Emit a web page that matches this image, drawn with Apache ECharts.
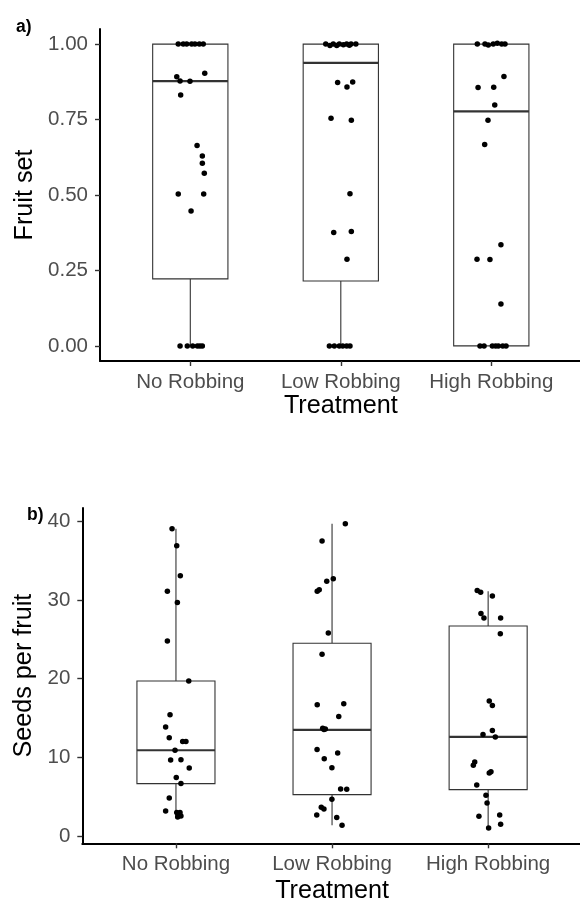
<!DOCTYPE html>
<html>
<head>
<meta charset="utf-8">
<script src="https://cdn.jsdelivr.net/npm/echarts@6/dist/echarts.min.js"></script>
<style>
html,body{margin:0;padding:0;background:#fff;}
#chart{width:580px;height:901px;}
</style>
</head>
<body>
<div id="chart"></div>
<script>
// ---- Data ----
const treatments = ['No Robbing', 'Low Robbing', 'High Robbing'];
const treatmentPos = [1, 2, 3];
const fruitTicks = [0, 0.25, 0.5, 0.75, 1.0];
const seedTicks = [0, 10, 20, 30, 40];

// box stats: [position, lower whisker, Q1, median, Q3, upper whisker]
const fruitBoxes = [
  [1, 0, 0.222, 0.877, 1.0, 1.0],
  [2, 0, 0.215, 0.938, 1.0, 1.0],
  [3, 0, 0.0, 0.777, 1.0, 1.0]
];
const seedBoxes = [
  [1, 2.41, 6.66, 10.9, 19.7, 39.05],
  [2, 1.36, 5.26, 13.5, 24.5, 39.7],
  [3, 1.02, 5.9, 12.6, 26.7, 31.1]
];

// jittered points [x position, value]
const fruitNo = [
  [0.920,1],[0.953,1],[0.976,1],[1.009,1],[1.031,1],[1.060,1],[1.086,1],
  [0.910,0.892],[1.096,0.903],[0.932,0.878],[0.998,0.877],[0.936,0.831],
  [1.045,0.664],[1.080,0.629],[1.080,0.605],[1.093,0.572],[0.920,0.503],
  [1.089,0.503],[1.005,0.447],
  [0.932,0],[0.980,0],[1.016,0],[1.047,0],[1.064,0],[1.080,0]
];
const fruitLow = [
  [1.900,1],[1.928,0.995],[1.950,1],[1.973,0.995],[1.990,1],[2.017,0.998],
  [2.039,1],[2.057,0.996],[2.068,1],[2.100,1],
  [1.979,0.873],[2.079,0.874],[2.041,0.858],[1.935,0.754],[2.070,0.748],
  [2.061,0.504],[1.953,0.376],[2.070,0.379],[2.041,0.287],
  [1.924,0],[1.957,0],[1.990,0],[2.013,0],[2.039,0],[2.061,0]
];
const fruitHigh = [
  [2.907,1],[2.958,1],[2.980,0.997],[3.013,1],[3.040,1.003],[3.069,1],[3.091,1],
  [3.084,0.893],[2.912,0.856],[3.016,0.857],[3.023,0.798],[2.978,0.748],
  [2.956,0.667],[3.064,0.335],[2.905,0.287],[2.991,0.286],[3.064,0.139],
  [2.925,0],[2.952,0],[3.007,0],[3.029,0],[3.047,0],[3.076,0],[3.098,0]
];
const seedNo = [
  [0.975,39.05],[1.005,36.9],[1.028,33.1],[0.945,31.1],[1.009,29.7],[0.945,24.8],
  [1.082,19.7],[0.962,15.4],[0.934,13.85],[0.957,12.5],[1.043,12.0],[1.064,12.0],
  [0.994,10.9],[0.966,9.66],[1.032,9.7],[1.085,8.64],[1.002,7.42],[1.032,6.66],
  [0.957,4.83],[0.934,3.18],[1.005,3.0],[1.026,3.0],[1.015,2.63],[1.032,2.54],[1.011,2.41]
];
const seedLow = [
  [2.085,39.7],[1.936,37.5],[2.008,32.7],[1.966,32.4],[1.918,31.3],[1.905,31.1],
  [1.976,25.8],[1.936,23.1],[1.905,16.7],[2.075,16.8],[2.043,15.2],[1.940,13.7],
  [1.957,13.6],[1.948,13.55],[1.904,11.0],[2.036,10.55],[1.950,9.83],[1.999,8.69],
  [2.055,5.97],[2.094,5.93],[1.999,4.66],[1.931,3.65],[1.948,3.43],[1.902,2.67],
  [2.030,2.34],[2.064,1.36]
];
const seedHigh = [
  [2.930,31.2],[2.952,31.0],[3.027,30.5],[2.954,28.3],[2.973,27.7],[3.080,27.7],
  [3.078,25.7],[3.007,17.15],[3.027,16.6],[3.027,13.4],[2.967,12.9],[3.046,12.6],
  [2.914,9.4],[2.905,8.98],[3.018,8.18],[3.007,8.0],[2.927,6.48],[2.986,5.17],
  [2.993,4.19],[2.941,2.50],[3.074,2.67],[3.080,1.49],[3.003,1.02]
];

// ---- Chart ----
const FONT = 'Liberation Sans, Arial, Helvetica, sans-serif';
const chart = echarts.init(document.getElementById('chart'), null, {renderer: 'canvas'});

function renderBox(params, api) {
  const x = api.value(0);
  const lo = api.coord([x, api.value(1)]);
  const q1 = api.coord([x, api.value(2)]);
  const md = api.coord([x, api.value(3)]);
  const q3 = api.coord([x, api.value(4)]);
  const hi = api.coord([x, api.value(5)]);
  const w = api.size([0.5, 0])[0];
  const stroke = '#333333';
  return {
    type: 'group',
    children: [
      {type: 'line', shape: {x1: hi[0], y1: hi[1], x2: q3[0], y2: q3[1]}, style: {stroke: stroke, lineWidth: 1.1}},
      {type: 'line', shape: {x1: lo[0], y1: lo[1], x2: q1[0], y2: q1[1]}, style: {stroke: stroke, lineWidth: 1.1}},
      {type: 'rect', shape: {x: q3[0] - w / 2, y: q3[1], width: w, height: q1[1] - q3[1]},
        style: {fill: '#ffffff', stroke: stroke, lineWidth: 1.1}},
      {type: 'line', shape: {x1: md[0] - w / 2, y1: md[1], x2: md[0] + w / 2, y2: md[1]},
        style: {stroke: stroke, lineWidth: 2.2}}
    ]
  };
}

function xAxisDef(gridIndex, gap) {
  return {
    type: 'value', gridIndex: gridIndex, min: 0.4, max: 3.6,
    name: 'Treatment', nameLocation: 'middle', nameGap: gap,
    nameTextStyle: {color: '#000', fontSize: 25.2, fontFamily: FONT},
    axisLine: {show: true, onZero: false, lineStyle: {color: '#000', width: 2}},
    axisTick: {show: true, length: 5, lineStyle: {color: '#333', width: 1.4}, customValues: treatmentPos},
    axisLabel: {color: '#4d4d4d', fontSize: 20.5, fontFamily: FONT, margin: 11,
      customValues: treatmentPos, formatter: v => treatments[Math.round(v) - 1]},
    splitLine: {show: false}
  };
}

function yAxisDef(gridIndex, name, min, max, ticks, fmt, gap) {
  return {
    type: 'value', gridIndex: gridIndex, min: min, max: max,
    name: name, nameLocation: 'middle', nameGap: gap,
    nameTextStyle: {color: '#000', fontSize: 25.2, fontFamily: FONT},
    axisLine: {show: true, onZero: false, lineStyle: {color: '#000', width: 2}},
    axisTick: {show: true, length: 5, lineStyle: {color: '#333', width: 1.4}, customValues: ticks},
    axisLabel: {color: '#4d4d4d', fontSize: 20.5, fontFamily: FONT, margin: 12,
      customValues: ticks, formatter: fmt},
    splitLine: {show: false}
  };
}

function points(data, idx) {
  return {type: 'scatter', xAxisIndex: idx, yAxisIndex: idx, data: data,
    symbolSize: 5.5, itemStyle: {color: '#000', opacity: 1}, z: 5, silent: true};
}

const option = {
  animation: false,
  backgroundColor: '#ffffff',
  title: [
    {text: 'a)', left: 11, top: 13, textStyle: {fontSize: 17.5, fontWeight: 'bold', color: '#000', fontFamily: FONT}},
    {text: 'b)', left: 22, top: 501, textStyle: {fontSize: 17.5, fontWeight: 'bold', color: '#000', fontFamily: FONT}}
  ],
  grid: [
    {left: 100, top: 29, width: 481.6, height: 332, containLabel: false, outerBoundsMode: 'none'},
    {left: 82.3, top: 508, width: 499.5, height: 335.3, containLabel: false, outerBoundsMode: 'none'}
  ],
  xAxis: [xAxisDef(0, 33), xAxisDef(1, 35)],
  yAxis: [
    yAxisDef(0, 'Fruit set', -0.05, 1.05, fruitTicks, v => v.toFixed(2), 59),
    yAxisDef(1, 'Seeds per fruit', -0.93, 41.7, seedTicks, v => String(v), 45)
  ],
  series: [
    {type: 'custom', xAxisIndex: 0, yAxisIndex: 0, data: fruitBoxes, renderItem: renderBox,
      encode: {x: 0, y: [1, 2, 3, 4, 5]}, z: 2, silent: true},
    {type: 'custom', xAxisIndex: 1, yAxisIndex: 1, data: seedBoxes, renderItem: renderBox,
      encode: {x: 0, y: [1, 2, 3, 4, 5]}, z: 2, silent: true},
    points(fruitNo, 0), points(fruitLow, 0), points(fruitHigh, 0),
    points(seedNo, 1), points(seedLow, 1), points(seedHigh, 1)
  ]
};
chart.setOption(option);
</script>
</body>
</html>
